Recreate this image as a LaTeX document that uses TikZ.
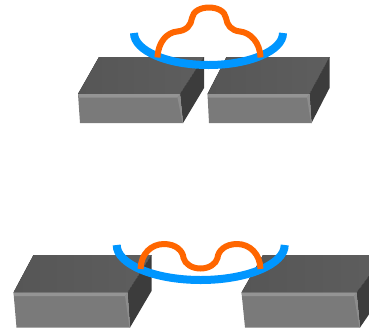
\documentclass[tikz,border=0pt]{standalone}
\definecolor{topdark}{HTML}{565656}
\definecolor{toplight}{HTML}{5E5E5E}
\definecolor{sideface}{HTML}{3C3C3C}
\definecolor{frontface}{HTML}{7A7A7A}
\definecolor{bevel}{HTML}{949494}
\definecolor{arcblue}{HTML}{0096FF}
\definecolor{stripe}{HTML}{FF6600}
% #1 front-top-left, #2 back-left, #3 back-right, #4 side lower corner,
% #5 front-bottom-right, #6 front-top-right, #7 front-bottom-left
\newcommand{\slab}[7]{%
  \fill[left color=topdark,right color=toplight] (#1) -- (#2) -- (#3) -- (#6) -- cycle;
  \fill[sideface] (#3) -- (#4) -- (#5) -- (#6) -- cycle;
  \fill[frontface] (#1) -- (#6) -- (#5) -- (#7) -- cycle;
  \fill[bevel] (#1) -- (#6) -- ([shift={(-2.5,3.5)}]#6) -- ([shift={(1,3.5)}]#1) -- cycle;
  \fill[bevel!70!frontface] (#6) -- ([shift={(-2.5,3.5)}]#6) -- ([shift={(-0.5,0)}]#5) -- (#5) -- cycle;
}
\tikzset{
  cradle/.style={draw=arcblue,line width=8pt,line cap=butt},
  wave/.style={draw=stripe,line width=6pt,line cap=butt,line join=round},
}
\begin{document}
\begin{tikzpicture}[x=1pt,y=-1pt]
\useasboundingbox (0,0) rectangle (369,330);
% upper pair of slabs
\slab{78,94}{99,57}{204,57}{204,88}{183,123}{180,94}{80,123}
\slab{207.5,94}{226.5,57}{329.5,57}{329.5,88}{311.5,123}{309.5,94}{209,123}
% lower pair of slabs
\slab{13.5,292.5}{33.5,255}{151.5,255}{151.5,291}{130,327.5}{127.5,292.5}{16.5,327.5}
\begin{scope}
  \clip (0,0) rectangle (369,330);
  \slab{241.5,292.5}{263,255}{385,255}{385,291}{360,327.5}{356.5,292.5}{245,327.5}
\end{scope}
% upper cradle and stripe
\draw[cradle] (134,33) .. controls (134,50.7) and (167.4,65) .. (208.5,65)
              .. controls (249.6,65) and (283,50.7) .. (283,33);
\draw[wave] (157.5,57.5) .. controls (158,42) and (167,32.5) .. (177,31.5)
            .. controls (187,30.5) and (191,25) .. (192,18)
            .. controls (193,11) and (201,7.5) .. (209,7.5)
            .. controls (217,7.5) and (225,11) .. (226,18)
            .. controls (227,25) and (231,30.5) .. (240,31.5)
            .. controls (250,32.5) and (260,42) .. (260.5,57.5);
% lower cradle and stripe
\draw[cradle] (116.7,245) .. controls (116.7,264.3) and (154.3,280) .. (200.7,280)
              .. controls (247.1,280) and (284.7,264.3) .. (284.7,245);
\draw[wave] (140.5,269) .. controls (141,254) and (151,244) .. (164,244)
            .. controls (176,244) and (183,251) .. (183.5,258)
            .. controls (185,264) and (192,268.5) .. (200.5,268.5)
            .. controls (209,268.5) and (216,264) .. (217.5,258)
            .. controls (218,251) and (225,244) .. (237,244)
            .. controls (250,244) and (260,254) .. (260.5,269);
\end{tikzpicture}
\end{document}
